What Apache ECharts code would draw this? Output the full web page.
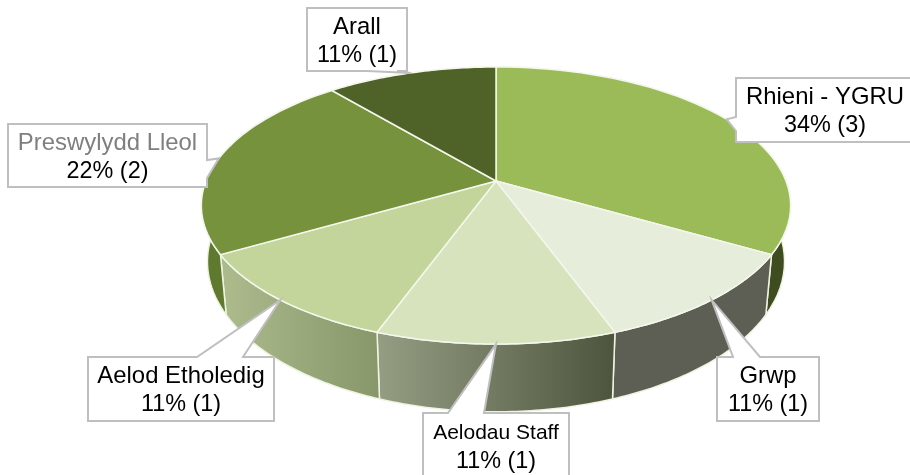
<!DOCTYPE html>
<html>
<head>
<meta charset="utf-8">
<style>
  html, body { margin: 0; padding: 0; background: #fff; overflow: hidden; }
  #chart { width: 910px; height: 475px; }
</style>
<script src="https://cdn.jsdelivr.net/npm/echarts@6/dist/echarts.min.js"></script>
</head>
<body>
<div id="chart"></div>
<script>
// clockwise from 12 o'clock
const categories = ['Rhieni - YGRU', 'Grwp', 'Aelodau Staff', 'Aelod Etholedig', 'Preswylydd Lleol', 'Arall'];
const counts = [3, 1, 1, 1, 2, 1];
const percentLabels = ['34%', '11%', '11%', '11%', '22%', '11%'];

const topColors = ['#9bbb59', '#e6eddb', '#d7e3bc', '#c3d59b', '#76923c', '#4f6228'];
const wallColors = [
  ['#3f4c1f', '#3f4c1f'],
  ['#5e5f54', '#5e5f54'],
  ['#959e83', '#4d543d'],
  ['#adbb8d', '#87976a'],
  ['#5f7a2e', '#5f7a2e'],
  ['#4f6228', '#4f6228']
];

// tilted disc: a circle under a perspective projection, so the pivot sits above the ellipse centre
const pivotX = 496;
const topRim = { y: 181, rx: 290, ry: 134.2 };
const bottomRim = { y: 235, rx: 284, ry: 145.5 };
const perspective = 0.177;

// label boxes, wedge runs from a to b along one side
const callouts = [
  { x: 736, y: 78, w: 190, h: 64, side: 'left', a: 39, b: 53 },
  { x: 717, y: 357, w: 102, h: 64, side: 'top', a: 16, b: 43 },
  { x: 423, y: 413, w: 146, h: 70, side: 'top', a: 25, b: 61 },
  { x: 88, y: 357, w: 186, h: 64, side: 'top', a: 109, b: 155 },
  { x: 8, y: 124, w: 199, h: 63, side: 'right', a: 36, b: 54 },
  { x: 307, y: 8, w: 100, h: 63, side: 'bottom', a: 60, b: 90 }
];
const calloutBorder = '#bfbfbf';
const nameColors = ['#000', '#000', '#000', '#000', '#7f7f7f', '#000'];
const nameSizes = [23.9, 23.9, 21, 23.9, 23.9, 23.9];

const total = counts.reduce((a, b) => a + b, 0);
const startAngles = [];
counts.reduce((sum, v, i) => {
  startAngles[i] = (sum / total) * Math.PI * 2;
  return sum + v;
}, 0);

const project = (angle, rim) => {
  const u = Math.sin(angle);
  const v = Math.cos(angle);
  const w = 1 + perspective * v;
  return [pivotX + (rim.rx * u) / w, rim.y - (rim.ry * v) / w];
};

const arc = (from, to, rim) => {
  const pts = [];
  const steps = 48;
  for (let i = 0; i <= steps; i++) {
    pts.push(project(from + ((to - from) * i) / steps, rim));
  }
  return pts;
};

const sliceRange = (i, api) => {
  const from = startAngles[i];
  return [from, from + (api.value(1) / total) * Math.PI * 2];
};

const renderWall = (params, api) => {
  const i = params.dataIndex;
  const [from, to] = sliceRange(i, api);
  return {
    type: 'polygon',
    shape: { points: arc(from, to, topRim).concat(arc(to, from, bottomRim)) },
    style: {
      fill: new echarts.graphic.LinearGradient(0, 0, 1, 0, [
        { offset: 0, color: wallColors[i][0] },
        { offset: 1, color: wallColors[i][1] }
      ]),
      stroke: '#eef3e2',
      lineWidth: 1.5
    }
  };
};

const renderTop = (params, api) => {
  const i = params.dataIndex;
  const [from, to] = sliceRange(i, api);
  return {
    type: 'polygon',
    shape: { points: [[pivotX, topRim.y]].concat(arc(from, to, topRim)) },
    style: { fill: topColors[i], stroke: '#f4f7ec', lineWidth: 1.5 }
  };
};

const calloutPoints = (c, tip) => {
  const { x, y, w, h, a, b } = c;
  if (c.side === 'top') return [[x, y], [x + a, y], tip, [x + b, y], [x + w, y], [x + w, y + h], [x, y + h]];
  if (c.side === 'right') return [[x, y], [x + w, y], [x + w, y + a], tip, [x + w, y + b], [x + w, y + h], [x, y + h]];
  if (c.side === 'bottom') return [[x, y], [x + w, y], [x + w, y + h], [x + b, y + h], tip, [x + a, y + h], [x, y + h]];
  return [[x, y], [x + w, y], [x + w, y + h], [x, y + h], [x, y + b], tip, [x, y + a]];
};

const renderCallout = (params, api) => {
  const i = params.dataIndex;
  const [from, to] = sliceRange(i, api);
  const c = callouts[i];
  const tip = project((from + to) / 2, topRim);
  // Rhieni box runs off the right edge and Staff off the bottom, text stays centred on what was drawn
  const cx = c.x + (i === 0 ? 89 : c.w / 2);
  const cy = c.y + (i === 2 ? 32.5 : c.h / 2);
  return {
    type: 'group',
    children: [
      {
        type: 'polygon',
        shape: { points: calloutPoints(c, tip) },
        style: { fill: '#fff', stroke: calloutBorder, lineWidth: 2 }
      },
      {
        type: 'text',
        style: {
          text: categories[i],
          x: cx,
          y: cy - 12.5,
          align: 'center',
          verticalAlign: 'middle',
          fill: nameColors[i],
          font: nameSizes[i] + 'px "Liberation Sans"'
        }
      },
      {
        type: 'text',
        style: {
          text: percentLabels[i] + ' (' + api.value(1) + ')',
          x: cx,
          y: cy + 16,
          align: 'center',
          verticalAlign: 'middle',
          fill: '#000',
          font: '23.4px "Liberation Sans"'
        }
      }
    ]
  };
};

const seriesData = counts.map((v, i) => [i, v]);
const chart = echarts.init(document.getElementById('chart'));

chart.setOption({
  backgroundColor: '#ffffff',
  animation: false,
  series: [
    { type: 'custom', coordinateSystem: 'none', silent: true, z: 1, data: seriesData, renderItem: renderWall },
    { type: 'custom', coordinateSystem: 'none', silent: true, z: 2, data: seriesData, renderItem: renderTop },
    { type: 'custom', coordinateSystem: 'none', silent: true, z: 3, data: seriesData, renderItem: renderCallout }
  ]
});
</script>
</body>
</html>
